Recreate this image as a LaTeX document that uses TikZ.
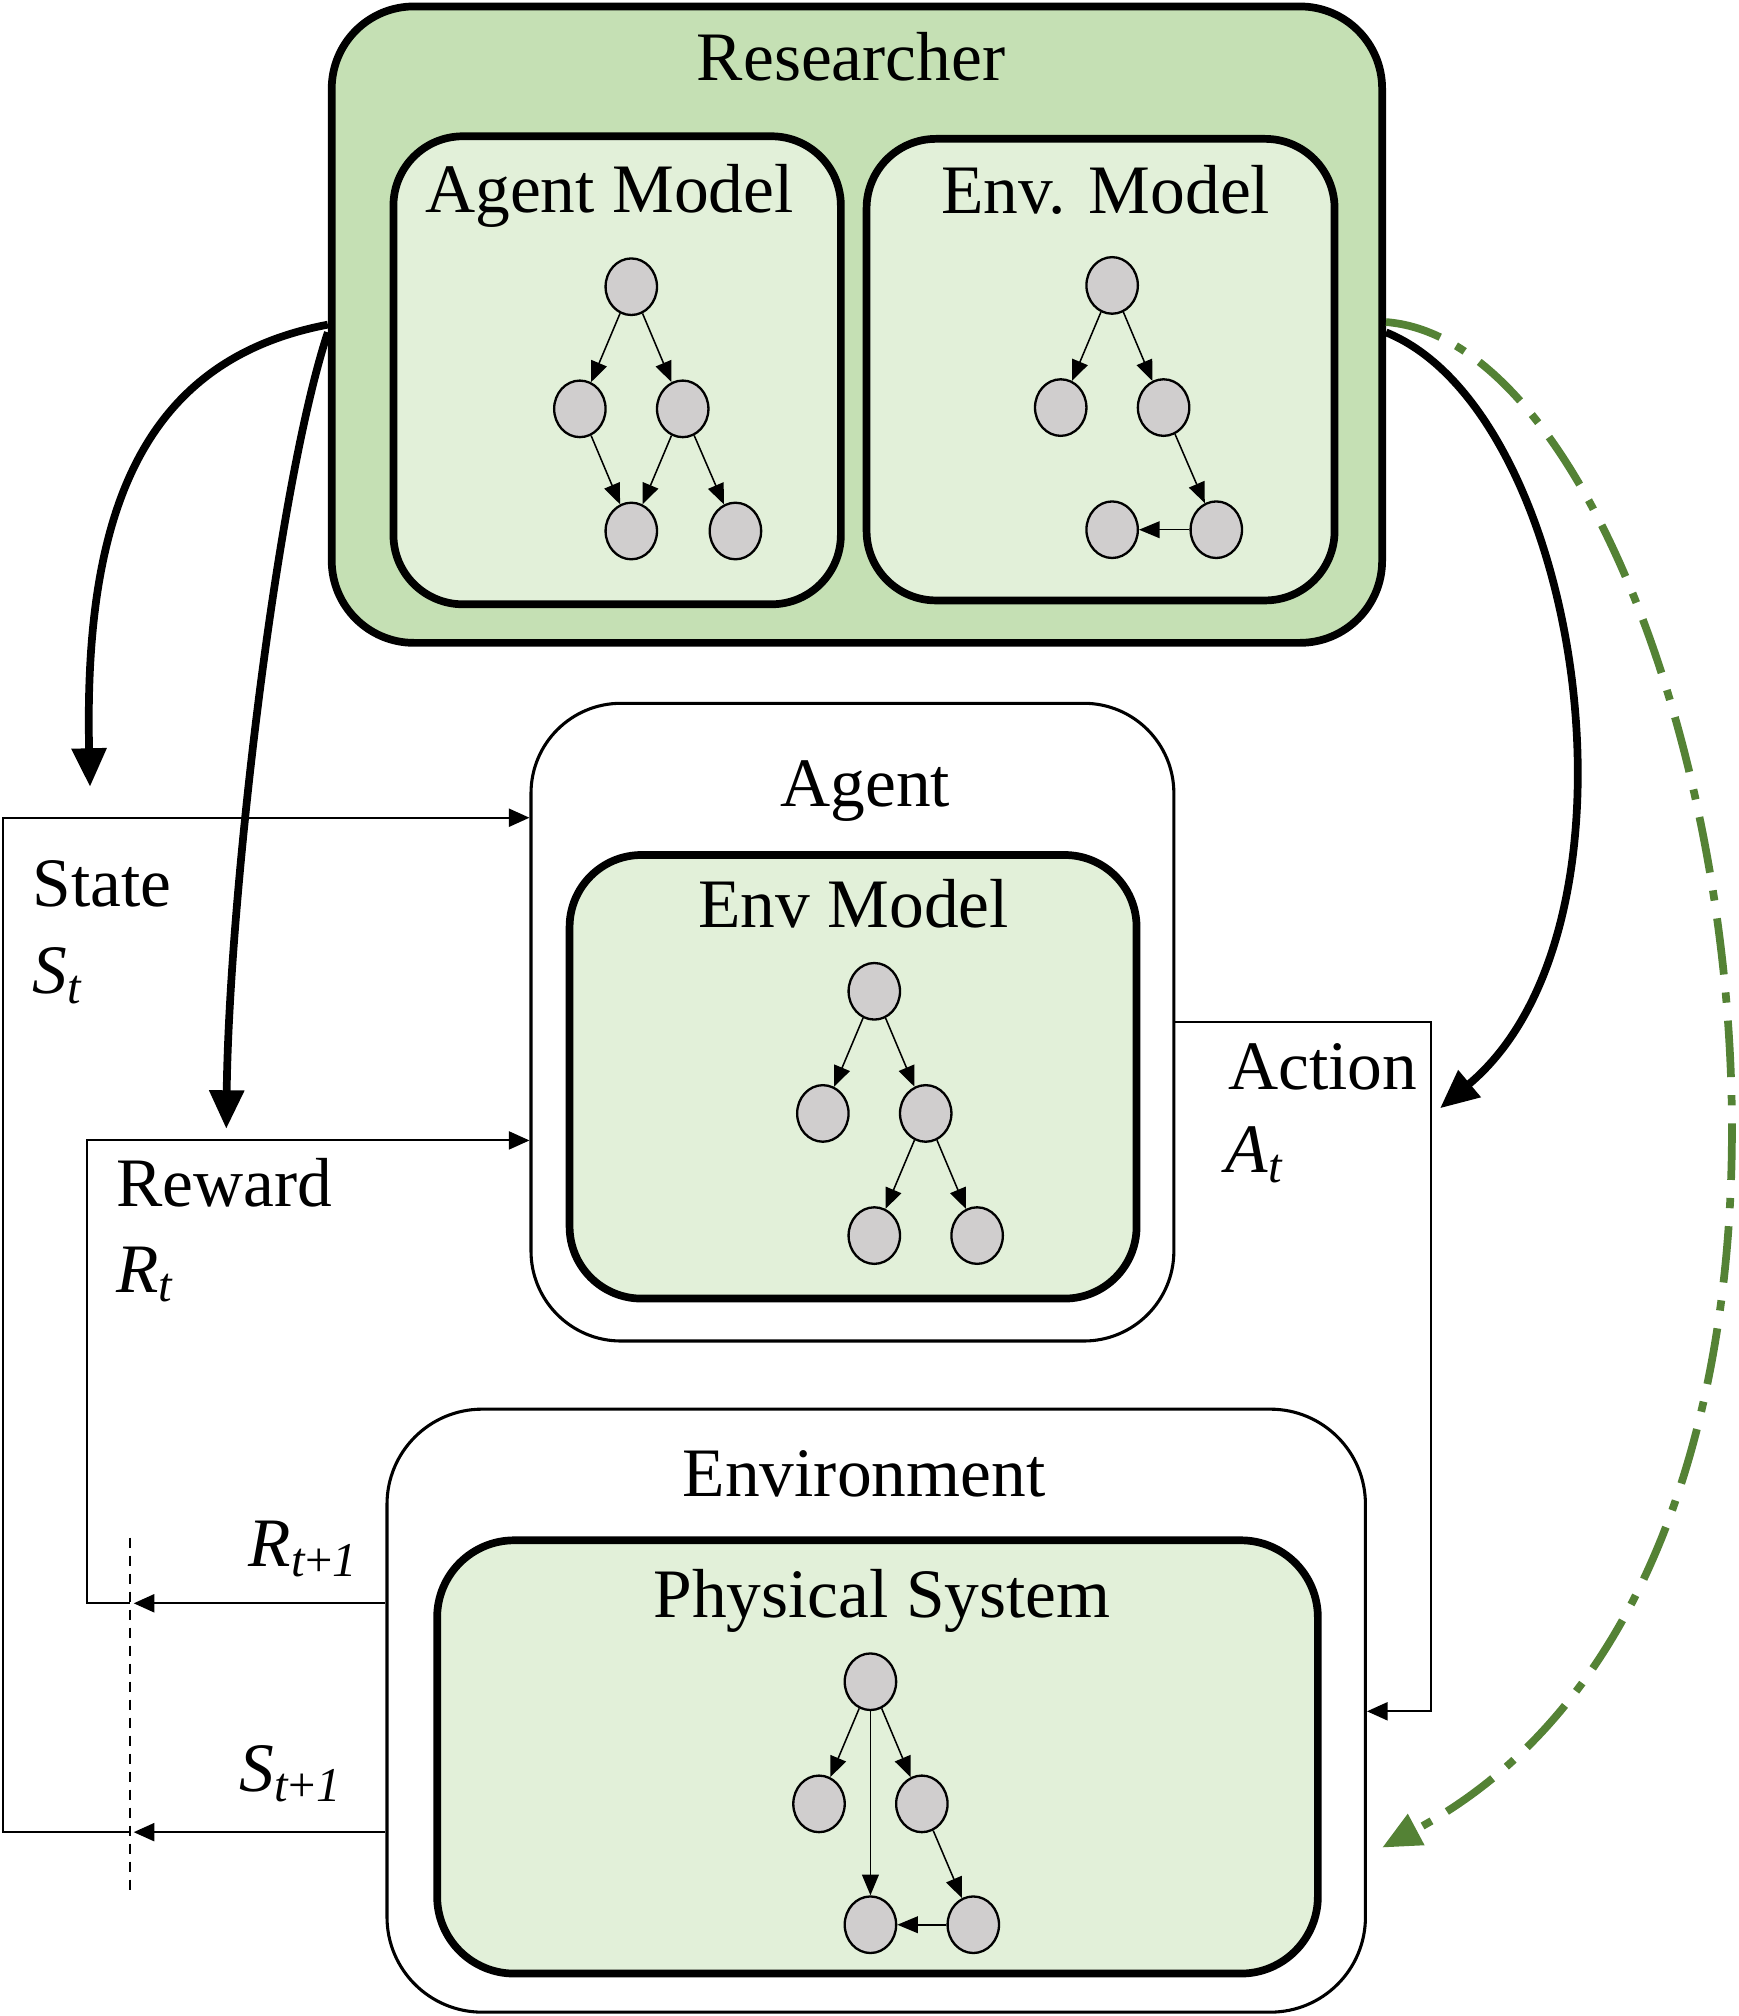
\documentclass[tikz,border=0pt]{standalone}
\usepackage{fontspec}
\setmainfont{Liberation Serif}
\usetikzlibrary{positioning, calc, arrows.meta, shapes.geometric}
\definecolor{resgreen}{HTML}{C5E0B4}
\definecolor{modgreen}{HTML}{E2F0D9}
\definecolor{nodegray}{HTML}{D0CECE}
\definecolor{dashgreen}{HTML}{548235}
\tikzset{
  bigbox/.style={draw, rectangle, line width=1.2pt, fill=white},
  modelbox/.style={draw, rectangle, line width=3pt, fill=modgreen},
  boxtitle/.style={font=\fontsize{27}{32}\selectfont, inner sep=0pt, anchor=base},
  lbl/.style={font=\fontsize{27}{32}\selectfont, inner sep=0pt, anchor=base west},
  vert/.style={ellipse, draw, fill=nodegray, line width=0.9pt, inner sep=0pt, minimum width=20pt, minimum height=22pt},
  link/.style={-{Triangle[length=8pt,width=6.5pt]}, line width=0.6pt},
  flow/.style={-{Triangle[length=8pt,width=7pt]}, line width=0.8pt},
  feed/.style={-{Triangle[length=15pt,width=13pt]}, line width=3pt},
}
\begin{document}
\begin{tikzpicture}[x=0.5pt,y=-0.5pt]
  \useasboundingbox (0,0) rectangle (1352,1568);
  % boxes
  \node[modelbox, fill=resgreen, minimum width=408.5pt, minimum height=247.5pt, rounded corners=32pt] (researcher) at (666.5,252.5) {};
  \node[modelbox, minimum width=174pt, minimum height=182pt, rounded corners=27pt] (agentmodel) at (480,288) {};
  \node[modelbox, minimum width=182pt, minimum height=179.5pt, rounded corners=27pt] (envmodel) at (856,287.5) {};
  \node[bigbox, minimum width=250pt, minimum height=248pt, rounded corners=35pt] (agent) at (663,795) {};
  \node[modelbox, minimum width=220.5pt, minimum height=172.5pt, rounded corners=28pt] (agentenv) at (663.5,837.5) {};
  \node[bigbox, minimum width=380.5pt, minimum height=234.5pt, rounded corners=37pt] (environment) at (681.5,1330.5) {};
  \node[modelbox, minimum width=342.5pt, minimum height=168.5pt, rounded corners=30pt] (physical) at (682.5,1366.5) {};
  % titles
  \node[boxtitle] (researcherT) at (662,63) {Researcher};
  \node[boxtitle] (agentmodelT) at (474,165) {Agent Model};
  \node[boxtitle] (envmodelT) at (860,166) {Env. Model};
  \node[boxtitle] (agentT) at (673,627) {Agent};
  \node[boxtitle] (agentenvT) at (664,721) {Env Model};
  \node[boxtitle] (environmentT) at (672,1164) {Environment};
  \node[boxtitle] (physicalT) at (686,1258) {Physical System};
  % agent model graph
  \node[vert] (am1) at (491,223) {};
  \node[vert] (am2) at (451,318) {};
  \node[vert] (am3) at (531,318) {};
  \node[vert] (am4) at (491,413) {};
  \node[vert] (am5) at (572,413) {};
  \draw[link] (am1) -- (am2);
  \draw[link] (am1) -- (am3);
  \draw[link] (am2) -- (am4);
  \draw[link] (am3) -- (am4);
  \draw[link] (am3) -- (am5);
  % env. model graph
  \node[vert] (em1) at (865,222) {};
  \node[vert] (em2) at (825,317) {};
  \node[vert] (em3) at (905,317) {};
  \node[vert] (em4) at (865,412) {};
  \node[vert] (em5) at (946,412) {};
  \draw[link] (em1) -- (em2);
  \draw[link] (em1) -- (em3);
  \draw[link] (em3) -- (em5);
  \draw[link] (em5) -- (em4);
  % agent's env model graph
  \node[vert] (ag1) at (680,771) {};
  \node[vert] (ag2) at (640,866) {};
  \node[vert] (ag3) at (720,866) {};
  \node[vert] (ag4) at (680,961) {};
  \node[vert] (ag5) at (760,961) {};
  \draw[link] (ag1) -- (ag2);
  \draw[link] (ag1) -- (ag3);
  \draw[link] (ag3) -- (ag4);
  \draw[link] (ag3) -- (ag5);
  % physical system graph
  \node[vert] (ps1) at (677,1308) {};
  \node[vert] (ps2) at (637,1403) {};
  \node[vert] (ps3) at (717,1403) {};
  \node[vert] (ps4) at (677,1497) {};
  \node[vert] (ps5) at (757,1497) {};
  \draw[link] (ps1) -- (ps2);
  \draw[link] (ps1) -- (ps3);
  \draw[link] (ps1) -- (ps4);
  \draw[link] (ps3) -- (ps5);
  \draw[link] (ps5) -- (ps4);
  % feedback loop
  \coordinate (sRow) at (0,636);
  \coordinate (rRow) at (0,887);
  \coordinate (sLeft) at (2,1425);
  \coordinate (rLeft) at (68,1247);
  \coordinate (sCut) at (101,1425);
  \coordinate (rCut) at (101,1247);
  \coordinate (cutTop) at (101,1196);
  \coordinate (cutBot) at (101,1473);
  \coordinate (aTop) at (1113,795);
  \coordinate (aBot) at (1113,1331);
  \draw[flow] (sCut) -- (sLeft) |- (agent.west |- sRow);
  \draw[flow] (rCut) -- (rLeft) |- (agent.west |- rRow);
  \draw[flow, shorten >=1.5pt] (environment.west |- sCut) -- (sCut);
  \draw[flow, shorten >=1.5pt] (environment.west |- rCut) -- (rCut);
  \draw[line width=0.6pt, dash pattern=on 4pt off 3pt] (cutTop) -- (cutBot);
  \draw[flow] (agent.east |- aTop) -- (aTop) -- (aBot) -- (environment.east |- aBot);
  % labels
  \node[lbl] (stateLbl) at (25,705) {State};
  \node[lbl] (stateSym) at (25,773) {\textit{S}\textsubscript{\textit{t}}};
  \node[lbl] (rewardLbl) at (90,938) {Reward};
  \node[lbl] (rewardSym) at (90,1005) {\textit{R}\textsubscript{\textit{t}}};
  \node[lbl] (actionLbl) at (955,847) {Action};
  \node[lbl] (actionSym) at (953,912) {\textit{A}\textsubscript{\textit{t}}};
  \node[lbl] (rNext) at (193,1218) {\textit{R}\textsubscript{\textit{t}+\textit{1}}};
  \node[lbl] (sNext) at (186,1393) {\textit{S}\textsubscript{\textit{t}+\textit{1}}};
  % researcher's influence
  \coordinate (stateDrop) at (70,612);
  \coordinate (rewardDrop) at (176,878);
  \coordinate (actionDrop) at (1120,862);
  \coordinate (greenDrop) at (1075,1437);
  \draw[feed] (researcher.west) .. controls (110,280) and (65,400) .. (stateDrop);
  \draw[feed] ([yshift=-3pt]researcher.west) .. controls (215,380) and (178,700) .. (rewardDrop);
  \draw[feed] ([yshift=-3pt]researcher.east) .. controls (1230,320) and (1290,720) .. (actionDrop);
  \draw[feed, dashgreen, line width=3pt, dash pattern=on 22pt off 7pt on 4pt off 7pt] ([yshift=1pt]researcher.east) .. controls (1330,270) and (1520,1200) .. (greenDrop);
\end{tikzpicture}
\end{document}
